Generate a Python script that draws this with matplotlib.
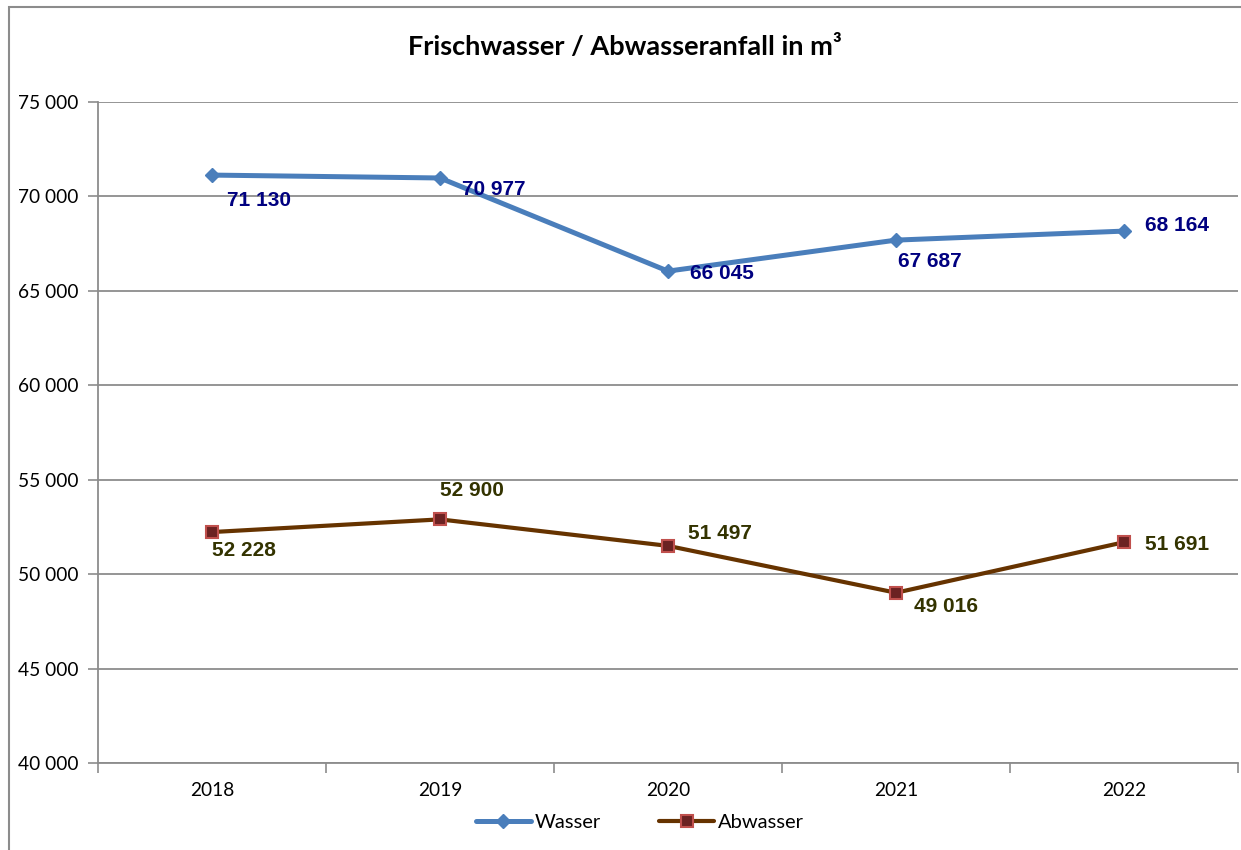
import numpy as np
import matplotlib
matplotlib.use('Agg')
import matplotlib.pyplot as plt
from matplotlib.ticker import FuncFormatter, FixedLocator
from matplotlib.patches import Rectangle

years = ['2018', '2019', '2020', '2021', '2022']
wasser = [71130, 70977, 66045, 67687, 68164]
abwasser = [52228, 52900, 51497, 49016, 51691]

# label offsets in pixels (from point to left edge / vertical centre of label)
wasser_off = [(15, -25), (22, -12), (22, -2), (2, -21), (21, 6)]
abwasser_off = [(0, -18), (0, 29), (20, 12), (18, -14), (21, -2)]

def fmt(v, pos=None):
    return '{:,}'.format(int(v)).replace(',', ' ')

fig = plt.figure(figsize=(12.41, 8.5), dpi=100)
ax = fig.add_axes([98/1241, 1 - 763/850, (1238 - 98)/1241, (763 - 102)/850])

# outer chart border (only top/left visible in the reference)
fig.patches.append(Rectangle((9/1241, -0.1), 1.2, 1 - 7/850 + 0.1, transform=fig.transFigure,
                             fill=False, edgecolor='#8c8c8c', linewidth=1.5, zorder=0))

x = np.arange(len(years))
ax.plot(x, wasser, color='#4a7ebb', linewidth=3.6, marker='D', markersize=7,
        markerfacecolor='#4a7ebb', markeredgecolor='#4a7ebb', label='Wasser', zorder=3,
        solid_capstyle='round')
ax.plot(x, abwasser, color='#663300', linewidth=3.0, marker='s', markersize=9,
        markerfacecolor='#6b2222', markeredgecolor='#c0504d', markeredgewidth=1.5,
        label='Abwasser', zorder=3, solid_capstyle='round')

for xi, v, off in zip(x, wasser, wasser_off):
    ax.annotate(fmt(v), (xi, v), xytext=off, textcoords='offset pixels', ha='left', va='center',
                fontsize=15, fontweight='bold', color='#000080', family='Liberation Sans', zorder=4)
for xi, v, off in zip(x, abwasser, abwasser_off):
    ax.annotate(fmt(v), (xi, v), xytext=off, textcoords='offset pixels', ha='left', va='center',
                fontsize=15, fontweight='bold', color='#333300', family='Liberation Sans', zorder=4)

ax.set_xlim(-0.5, len(years) - 0.5)
ax.set_ylim(40000, 75000)
ax.set_yticks(np.arange(40000, 75001, 5000))
ax.yaxis.set_major_formatter(FuncFormatter(fmt))
ax.set_xticks(x)
ax.set_xticklabels(years)
ax.xaxis.set_minor_locator(FixedLocator(np.arange(-0.5, len(years), 1.0)))
ax.tick_params(axis='x', which='major', length=0, pad=14)
ax.tick_params(axis='x', which='minor', length=7, color='#8c8c8c', width=1.2)
ax.tick_params(axis='y', length=7, color='#8c8c8c', width=1.2, pad=7)
for lab in ax.get_xticklabels() + ax.get_yticklabels():
    lab.set_family('Lato')
    lab.set_fontsize(13.8)

ax.grid(axis='y', color='#8c8c8c', linewidth=1.3)
ax.set_axisbelow(True)
for s in ['top', 'right']:
    ax.spines[s].set_visible(False)
for s in ['left', 'bottom']:
    ax.spines[s].set_color('#8c8c8c')
    ax.spines[s].set_linewidth(1.3)

fig.text(625/1241, 1 - 47/850, 'Frischwasser / Abwasseranfall in m³', ha='center', va='center',
         fontsize=19.5, fontweight='bold', family='Lato')

fig.legend(loc='center', bbox_to_anchor=(640/1241, 1 - 822/850), ncol=2, frameon=False,
           prop={'family': 'Lato', 'size': 14.5}, handlelength=2.7, handletextpad=0.2,
           columnspacing=2.9)

fig.savefig('out.png', dpi=100)
